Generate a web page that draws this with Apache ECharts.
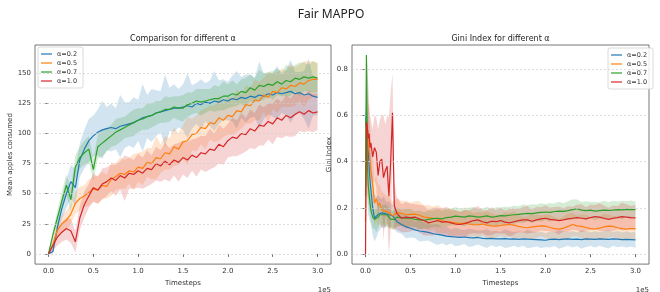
<!DOCTYPE html>
<html>
<head>
<meta charset="utf-8">
<script src="https://cdn.jsdelivr.net/npm/echarts@6/dist/echarts.min.js"></script>
<style>
  html, body { margin: 0; padding: 0; background: #fff; }
  #chart { width: 660px; height: 292px; }
</style>
</head>
<body>
<div id="chart"></div>
<script>
const seriesNames = ['α=0.2', 'α=0.5', 'α=0.7', 'α=1.0'];
const palette = ['#1f77b4', '#ff7f0e', '#2ca02c', '#d62728'];

// tick labels
const ticksT = [0, 0.5, 1.0, 1.5, 2.0, 2.5, 3.0];
const ticksApples = [0, 25, 50, 75, 100, 125, 150];
const ticksGini = [0, 0.2, 0.4, 0.6, 0.8];

// timesteps, in units of 1e5
const stepsL = [0, 0.05, 0.1, 0.15, 0.2, 0.25, 0.3, 0.35, 0.4, 0.45, 0.5, 0.55, 0.6, 0.65, 0.7, 0.75, 0.8, 0.85, 0.9, 0.95,
  1.0, 1.05, 1.1, 1.15, 1.2, 1.25, 1.3, 1.35, 1.4, 1.45, 1.5, 1.55, 1.6, 1.65, 1.7, 1.75, 1.8, 1.85, 1.9, 1.95,
  2.0, 2.05, 2.1, 2.15, 2.2, 2.25, 2.3, 2.35, 2.4, 2.45, 2.5, 2.55, 2.6, 2.65, 2.7, 2.75, 2.8, 2.85, 2.9, 2.95, 3.0];

// mean apples consumed
const applesA02 = [0, 2, 22, 38, 50, 60, 55, 78, 87, 94, 98, 101, 103, 104, 105, 104, 106, 107, 108, 109,
  111, 113, 114, 115, 117, 118, 119, 120, 121, 121, 122, 123, 122, 125, 124, 126, 125, 127, 126, 128,
  127, 129, 128, 130, 129, 131, 130, 132, 131, 133, 132, 134, 133, 134, 135, 133, 134, 132, 133, 131, 130];
const applesA05 = [0, 8, 20, 25, 28, 33, 42, 46, 48, 51, 54, 53, 57, 56, 62, 64, 67, 66, 69, 68,
  72, 71, 76, 75, 80, 79, 84, 83, 89, 87, 93, 94, 99, 100, 105, 104, 109, 108, 113, 111,
  115, 114, 119, 118, 124, 123, 128, 127, 132, 130, 135, 134, 138, 137, 140, 139, 142, 141, 144, 145, 145];
const applesA07 = [0, 16, 30, 44, 57, 45, 72, 80, 84, 87, 70, 89, 92, 95, 98, 101, 103, 105, 107, 109,
  111, 112, 114, 115, 117, 118, 120, 120, 122, 121, 121, 124, 125, 127, 126, 127, 128, 129, 129, 131,
  131, 133, 132, 135, 134, 138, 136, 140, 139, 141, 140, 143, 141, 144, 143, 146, 145, 147, 146, 147, 146];
const applesA10 = [0, 7, 14, 18, 21, 19, 10, 30, 41, 48, 55, 53, 58, 60, 63, 61, 65, 63, 67, 66,
  69, 67, 71, 70, 75, 73, 77, 74, 78, 76, 80, 78, 82, 80, 84, 83, 87, 86, 91, 89,
  94, 97, 96, 100, 99, 104, 102, 107, 106, 110, 108, 113, 111, 115, 113, 116, 118, 116, 119, 117, 118];

// half-width of the shaded spread
const spreadA02 = [0, 2, 6, 9, 12, 14, 15, 14, 16, 18, 17, 19, 24, 18, 20, 17, 26, 19, 18, 21,
  17, 28, 18, 22, 19, 17, 30, 18, 20, 16, 19, 27, 18, 17, 21, 16, 19, 25, 18, 17,
  16, 19, 24, 17, 20, 18, 16, 28, 19, 17, 18, 22, 16, 19, 26, 18, 17, 20, 29, 16, 15];
const spreadA05 = [0, 4, 6, 7, 8, 8, 9, 10, 9, 11, 10, 12, 11, 10, 14, 11, 13, 12, 11, 15,
  12, 14, 12, 13, 18, 12, 14, 13, 16, 13, 14, 20, 13, 15, 14, 17, 14, 15, 19, 14,
  16, 15, 18, 14, 16, 15, 17, 16, 14, 21, 15, 17, 16, 15, 18, 16, 15, 19, 16, 15, 14];
const spreadA07 = [0, 4, 6, 8, 9, 10, 10, 9, 10, 11, 9, 10, 11, 10, 9, 11, 10, 9, 10, 11,
  10, 9, 11, 10, 10, 9, 11, 10, 9, 10, 11, 10, 9, 10, 11, 10, 9, 11, 10, 12,
  10, 11, 9, 10, 12, 11, 10, 13, 11, 10, 12, 11, 10, 13, 12, 11, 14, 12, 11, 13, 12];
const spreadA10 = [0, 4, 7, 8, 9, 10, 9, 10, 11, 10, 12, 11, 13, 12, 11, 13, 12, 19, 13, 12,
  14, 13, 15, 12, 14, 13, 15, 14, 13, 16, 14, 15, 13, 16, 14, 15, 17, 14, 16, 15,
  14, 16, 15, 17, 14, 16, 15, 17, 16, 15, 17, 16, 15, 17, 16, 18, 16, 15, 17, 16, 15];

const stepsR = [0, 0.01, 0.02, 0.03, 0.04, 0.05, 0.06, 0.08, 0.1, 0.12, 0.14, 0.16, 0.18, 0.2, 0.22, 0.24, 0.26, 0.28, 0.3, 0.32,
  0.35, 0.4, 0.45, 0.5, 0.55, 0.6, 0.65, 0.7, 0.75, 0.8, 0.85, 0.9, 0.95, 1.0,
  1.05, 1.1, 1.15, 1.2, 1.25, 1.3, 1.35, 1.4, 1.45, 1.5, 1.55, 1.6, 1.65, 1.7, 1.75, 1.8, 1.85, 1.9, 1.95, 2.0,
  2.05, 2.1, 2.15, 2.2, 2.25, 2.3, 2.35, 2.4, 2.45, 2.5, 2.55, 2.6, 2.65, 2.7, 2.75, 2.8, 2.85, 2.9, 2.95, 3.0];

// gini index
const giniA02 = [0.55, 0.62, 0.52, 0.45, 0.38, 0.32, 0.28, 0.2, 0.155, 0.16, 0.172, 0.175, 0.178, 0.18, 0.175, 0.172, 0.17, 0.168, 0.166, 0.155,
  0.14, 0.128, 0.118, 0.112, 0.105, 0.1, 0.097, 0.094, 0.088, 0.085, 0.082, 0.078, 0.076, 0.074,
  0.072, 0.074, 0.071, 0.07, 0.072, 0.068, 0.067, 0.068, 0.066, 0.066, 0.067, 0.065, 0.066, 0.064, 0.066, 0.065, 0.064, 0.063, 0.062, 0.06,
  0.064, 0.065, 0.063, 0.065, 0.066, 0.064, 0.065, 0.063, 0.066, 0.065, 0.064, 0.066, 0.065, 0.064, 0.066, 0.065, 0.063, 0.064, 0.063, 0.062];
const giniA05 = [0.14, 0.58, 0.55, 0.49, 0.45, 0.4, 0.36, 0.3, 0.22, 0.24, 0.21, 0.22, 0.19, 0.195, 0.186, 0.19, 0.18, 0.175, 0.166, 0.17,
  0.18, 0.176, 0.17, 0.172, 0.173, 0.168, 0.16, 0.158, 0.155, 0.152, 0.145, 0.14, 0.138, 0.135,
  0.132, 0.134, 0.13, 0.128, 0.127, 0.13, 0.125, 0.122, 0.121, 0.124, 0.126, 0.128, 0.125, 0.12, 0.116, 0.114, 0.118, 0.12, 0.122, 0.121,
  0.115, 0.11, 0.108, 0.112, 0.12, 0.128, 0.122, 0.12, 0.115, 0.11, 0.108, 0.112, 0.118, 0.121, 0.12, 0.114, 0.11, 0.108, 0.11, 0.11];
const giniA07 = [0.25, 0.86, 0.4, 0.3, 0.26, 0.22, 0.19, 0.16, 0.15, 0.145, 0.16, 0.17, 0.165, 0.17, 0.165, 0.17, 0.16, 0.15, 0.145, 0.15,
  0.16, 0.158, 0.155, 0.155, 0.15, 0.148, 0.146, 0.15, 0.153, 0.155, 0.152, 0.158, 0.16, 0.164,
  0.162, 0.16, 0.165, 0.163, 0.16, 0.162, 0.165, 0.16, 0.162, 0.166, 0.165, 0.168, 0.17, 0.172, 0.174, 0.176, 0.175, 0.178, 0.18, 0.182,
  0.18, 0.184, 0.186, 0.185, 0.188, 0.192, 0.196, 0.19, 0.188, 0.19, 0.186, 0.188, 0.19, 0.189, 0.19, 0.192, 0.191, 0.193, 0.192, 0.192];
const giniA10 = [0, 0.57, 0.55, 0.5, 0.52, 0.46, 0.48, 0.42, 0.46, 0.44, 0.34, 0.4, 0.41, 0.33, 0.36, 0.38, 0.25, 0.4, 0.61, 0.21,
  0.175, 0.155, 0.16, 0.158, 0.16, 0.152, 0.145, 0.135, 0.14, 0.145, 0.138, 0.14, 0.135, 0.13,
  0.128, 0.132, 0.138, 0.145, 0.148, 0.14, 0.135, 0.142, 0.14, 0.145, 0.138, 0.135, 0.14, 0.145, 0.148, 0.148, 0.142, 0.148, 0.152, 0.155,
  0.15, 0.148, 0.145, 0.148, 0.152, 0.155, 0.158, 0.155, 0.152, 0.158, 0.162, 0.16, 0.155, 0.15, 0.155, 0.158, 0.162, 0.16, 0.158, 0.157];

const spreadG02 = [0.05, 0.24, 0.3, 0.28, 0.22, 0.18, 0.15, 0.12, 0.1, 0.09, 0.08, 0.07, 0.06, 0.07, 0.06, 0.05, 0.06, 0.05, 0.05, 0.05,
  0.045, 0.04, 0.05, 0.04, 0.035, 0.045, 0.04, 0.035, 0.04, 0.045, 0.035, 0.04, 0.03, 0.04,
  0.035, 0.03, 0.04, 0.035, 0.03, 0.035, 0.04, 0.03, 0.035, 0.03, 0.04, 0.035, 0.03, 0.035, 0.03, 0.04, 0.035, 0.03, 0.035, 0.03,
  0.035, 0.03, 0.04, 0.035, 0.03, 0.035, 0.03, 0.04, 0.035, 0.03, 0.035, 0.03, 0.035, 0.04, 0.03, 0.035, 0.03, 0.035, 0.03, 0.035];
const spreadG05 = [0.1, 0.28, 0.3, 0.25, 0.2, 0.16, 0.14, 0.12, 0.1, 0.1, 0.09, 0.08, 0.08, 0.07, 0.07, 0.06, 0.07, 0.06, 0.06, 0.06,
  0.06, 0.055, 0.06, 0.05, 0.055, 0.06, 0.05, 0.055, 0.05, 0.06, 0.055, 0.05, 0.06, 0.055,
  0.05, 0.055, 0.06, 0.05, 0.055, 0.05, 0.06, 0.055, 0.05, 0.045, 0.055, 0.05, 0.06, 0.05, 0.045, 0.05, 0.055, 0.05, 0.045, 0.05,
  0.055, 0.05, 0.045, 0.05, 0.055, 0.05, 0.045, 0.05, 0.055, 0.05, 0.045, 0.05, 0.055, 0.05, 0.045, 0.05, 0.05, 0.045, 0.05, 0.045];
const spreadG07 = [0, 0, 0.1, 0.08, 0.06, 0.05, 0.05, 0.05, 0.04, 0.05, 0.05, 0.04, 0.05, 0.04, 0.05, 0.04, 0.04, 0.04, 0.04, 0.04,
  0.04, 0.035, 0.04, 0.04, 0.035, 0.04, 0.035, 0.04, 0.035, 0.04, 0.035, 0.04, 0.035, 0.04,
  0.035, 0.04, 0.035, 0.04, 0.035, 0.035, 0.04, 0.035, 0.04, 0.035, 0.04, 0.035, 0.04, 0.035, 0.04, 0.035, 0.04, 0.035, 0.04, 0.035,
  0.04, 0.035, 0.04, 0.035, 0.04, 0.045, 0.04, 0.035, 0.04, 0.035, 0.04, 0.035, 0.04, 0.035, 0.04, 0.035, 0.04, 0.035, 0.04, 0.035];
const spreadG10 = [0, 0.29, 0.2, 0.15, 0.12, 0.14, 0.1, 0.12, 0.14, 0.15, 0.2, 0.18, 0.19, 0.27, 0.2, 0.22, 0.34, 0.3, 0.17, 0.1,
  0.07, 0.06, 0.065, 0.06, 0.055, 0.06, 0.065, 0.055, 0.06, 0.055, 0.06, 0.065, 0.055, 0.06,
  0.055, 0.06, 0.05, 0.055, 0.06, 0.05, 0.055, 0.06, 0.05, 0.055, 0.05, 0.06, 0.055, 0.05, 0.055, 0.06, 0.05, 0.055, 0.05, 0.055,
  0.05, 0.055, 0.06, 0.05, 0.055, 0.05, 0.055, 0.06, 0.05, 0.055, 0.05, 0.06, 0.055, 0.05, 0.055, 0.05, 0.06, 0.055, 0.05, 0.055];

const apples = [applesA02, applesA05, applesA07, applesA10];
const applesSpread = [spreadA02, spreadA05, spreadA07, spreadA10];
const gini = [giniA02, giniA05, giniA07, giniA10];
const giniSpread = [spreadG02, spreadG05, spreadG07, spreadG10];

const FONT = 'DejaVu Sans';
const TXT = '#333';

// shaded spread: one polygon per series, placed through the axes with api.coord
function band(gi, steps, mean, spread, color) {
  const rows = steps.map((t, i) => [t, Math.max(0, mean[i] - spread[i]), mean[i] + spread[i]]);
  return {
    type: 'custom', xAxisIndex: gi, yAxisIndex: gi, silent: true, animation: false, clip: true, z: 2,
    data: [[steps[0], mean[0]]],
    renderItem(params, api) {
      const upper = rows.map(r => api.coord([r[0], r[2]]));
      const lower = rows.map(r => api.coord([r[0], r[1]])).reverse();
      return {
        type: 'polygon',
        shape: { points: upper.concat(lower) },
        style: { fill: color, opacity: 0.2 }
      };
    }
  };
}

function meanLine(gi, steps, mean, i) {
  return {
    type: 'line', name: seriesNames[i], xAxisIndex: gi, yAxisIndex: gi, symbol: 'none',
    silent: true, animation: false, z: 3,
    data: steps.map((t, k) => [t, mean[k]]),
    lineStyle: { color: palette[i], width: 1.2 }, itemStyle: { color: palette[i] }
  };
}

function gridLines(gi, ticks) {
  return {
    type: 'line', xAxisIndex: gi, yAxisIndex: gi, data: [], silent: true, animation: false, z: 1,
    markLine: {
      symbol: 'none', silent: true, animation: false, label: { show: false },
      lineStyle: { color: '#cfcfcf', type: [2, 2], width: 0.7 },
      data: ticks.map(v => ({ yAxis: v }))
    }
  };
}

const series = [gridLines(0, ticksApples), gridLines(1, ticksGini)];
for (let i = 0; i < 4; i++) {
  series.push(band(0, stepsL, apples[i], applesSpread[i], palette[i]));
  series.push(band(1, stepsR, gini[i], giniSpread[i], palette[i]));
}
for (let i = 0; i < 4; i++) {
  series.push(meanLine(0, stepsL, apples[i], i));
  series.push(meanLine(1, stepsR, gini[i], i));
}

function xAxis(gi) {
  return {
    gridIndex: gi, type: 'value', min: -0.15, max: 3.15,
    axisLine: { show: false }, splitLine: { show: false },
    axisTick: { customValues: ticksT, length: 3, lineStyle: { color: '#444', width: 0.8 } },
    axisLabel: { customValues: ticksT, formatter: v => v.toFixed(1), fontSize: 7, fontFamily: FONT, color: TXT, margin: 4 },
    name: 'Timesteps', nameLocation: 'middle', nameGap: 14,
    nameTextStyle: { fontSize: 7, fontFamily: FONT, color: TXT }
  };
}

function legend(pos) {
  return Object.assign({
    data: seriesNames, orient: 'vertical', icon: 'rect', itemWidth: 11, itemHeight: 1.6,
    itemGap: 1, itemTextGap: 6, selectedMode: false,
    itemStyle: { opacity: 0.75 },
    textStyle: { fontSize: 6.5, lineHeight: 8, fontFamily: FONT, color: TXT },
    backgroundColor: 'rgba(255,255,255,0.85)', borderColor: '#d0d0d0', borderWidth: 0.8, borderRadius: 2,
    padding: [3, 6, 3, 3]
  }, pos);
}

const chart = echarts.init(document.getElementById('chart'), null, { renderer: 'canvas' });
chart.setOption({
  animation: false,
  backgroundColor: '#fff',
  grid: [
    { left: 35, top: 45, width: 296, height: 232, show: true, borderColor: '#555', borderWidth: 0.8, backgroundColor: 'transparent' },
    { left: 352, top: 45, width: 297, height: 231, show: true, borderColor: '#555', borderWidth: 0.8, backgroundColor: 'transparent' }
  ],
  xAxis: [xAxis(0), xAxis(1)],
  yAxis: [
    {
      gridIndex: 0, type: 'value', min: -8.5, max: 173.5,
      axisLine: { show: false }, splitLine: { show: false },
      axisTick: { customValues: ticksApples, length: 3, lineStyle: { color: '#444', width: 0.8 } },
      axisLabel: { customValues: ticksApples, fontSize: 7, fontFamily: FONT, color: TXT, margin: 4 },
      name: 'Mean apples consumed', nameLocation: 'middle', nameGap: 19,
      nameTextStyle: { fontSize: 7, fontFamily: FONT, color: TXT }
    },
    {
      gridIndex: 1, type: 'value', min: -0.043, max: 0.903,
      axisLine: { show: false }, splitLine: { show: false },
      axisTick: { customValues: ticksGini, length: 3, lineStyle: { color: '#444', width: 0.8 } },
      axisLabel: { customValues: ticksGini, formatter: v => v.toFixed(1), fontSize: 7, fontFamily: FONT, color: TXT, margin: 4 },
      name: 'Gini Index', nameLocation: 'middle', nameGap: 16,
      nameTextStyle: { fontSize: 7, fontFamily: FONT, color: TXT }
    }
  ],
  legend: [
    legend({ left: 38, top: 47 }),
    legend({ left: 608, top: 48 })
  ],
  graphic: [
    { type: 'text', x: 331, y: 15, style: { text: 'Fair MAPPO', fontSize: 12, fontFamily: 'Noto Sans', fill: '#222', align: 'center', verticalAlign: 'middle' } },
    { type: 'text', x: 183, y: 39, style: { text: 'Comparison for different α', fontSize: 8, fontFamily: FONT, fill: '#222', align: 'center', verticalAlign: 'middle' } },
    { type: 'text', x: 500.5, y: 39, style: { text: 'Gini Index for different α', fontSize: 8, fontFamily: FONT, fill: '#222', align: 'center', verticalAlign: 'middle' } },
    { type: 'text', x: 331, y: 290, style: { text: '1e5', fontSize: 7, fontFamily: FONT, fill: TXT, align: 'right', verticalAlign: 'middle' } },
    { type: 'text', x: 649, y: 290, style: { text: '1e5', fontSize: 7, fontFamily: FONT, fill: TXT, align: 'right', verticalAlign: 'middle' } }
  ],
  series
});
</script>
</body>
</html>
